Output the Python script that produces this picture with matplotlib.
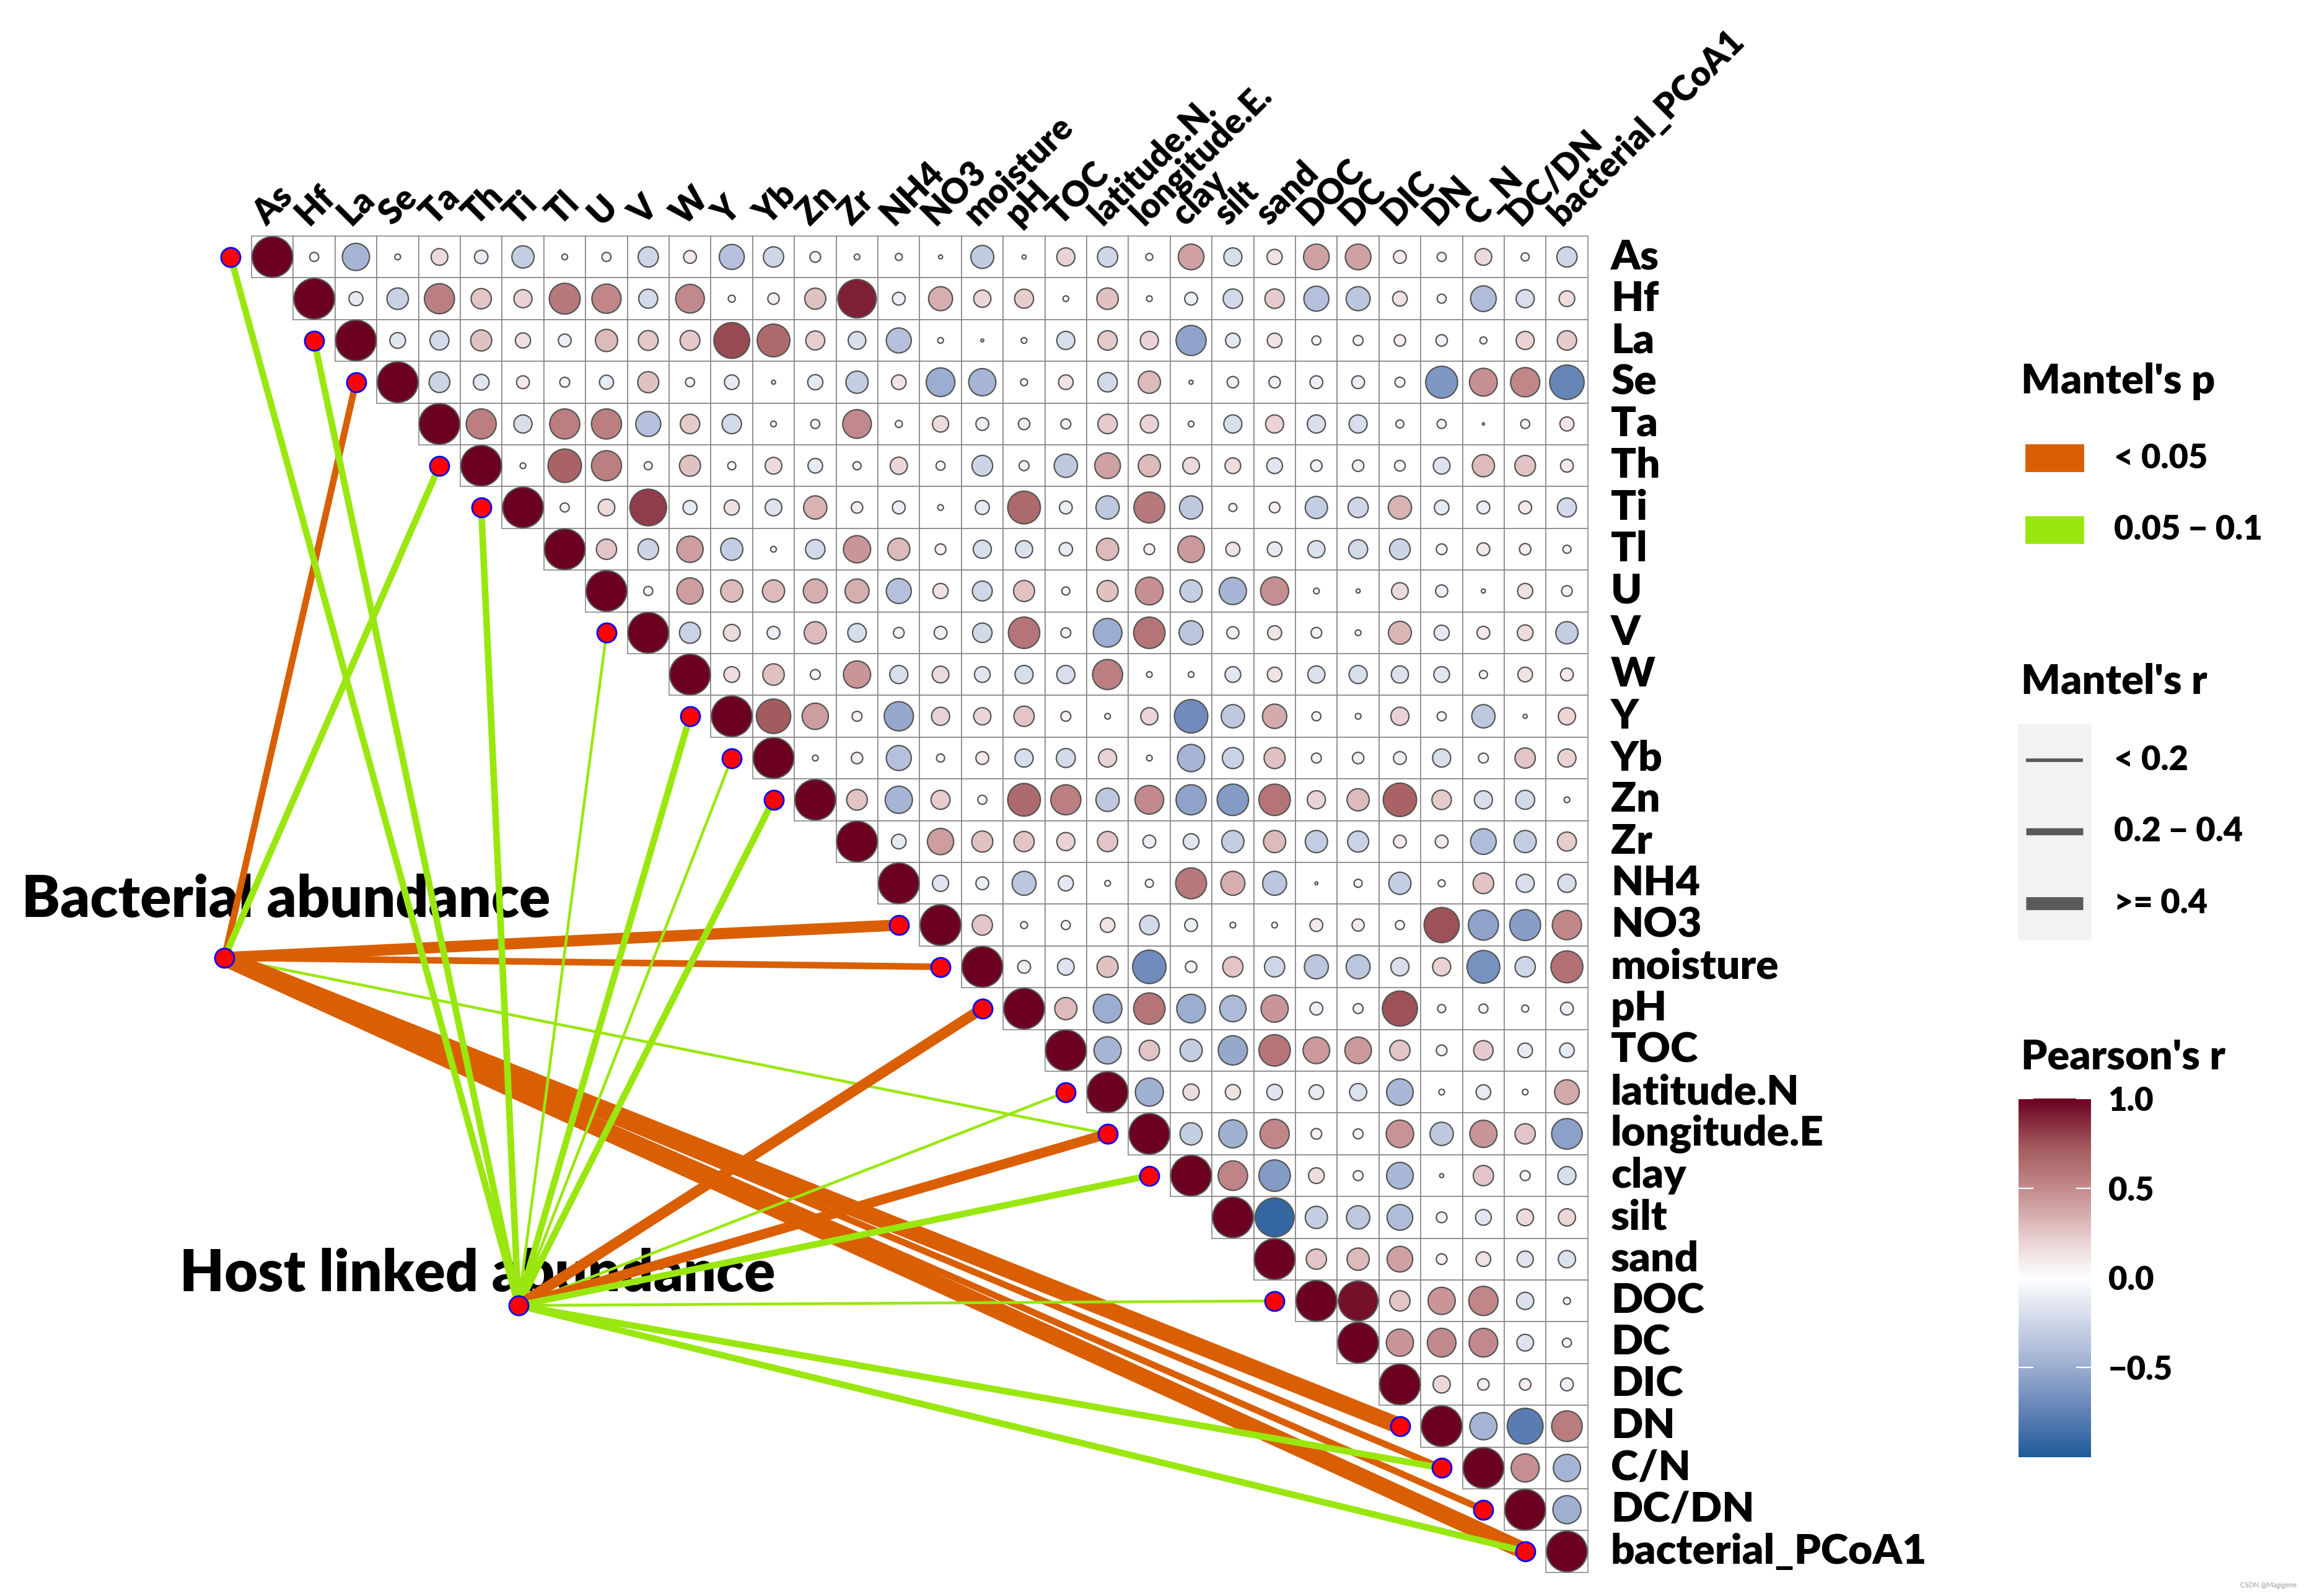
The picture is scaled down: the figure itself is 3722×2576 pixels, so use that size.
import numpy as np
import matplotlib
matplotlib.use("Agg")
import matplotlib.pyplot as plt
from matplotlib.patches import Rectangle, Circle
from matplotlib.lines import Line2D
from matplotlib.colors import LinearSegmentedColormap, Normalize
from matplotlib.cm import ScalarMappable

plt.rcParams['font.family'] = ['Lato', 'DejaVu Sans']
WEIGHT = 'heavy'
plt.rcParams['font.weight'] = WEIGHT

# variables (rows on the right, columns on top)
row_labels = ['As', 'Hf', 'La', 'Se', 'Ta', 'Th', 'Ti', 'Tl', 'U', 'V', 'W', 'Y', 'Yb',
              'Zn', 'Zr', 'NH4', 'NO3', 'moisture', 'pH', 'TOC', 'latitude.N',
              'longitude.E', 'clay', 'silt', 'sand', 'DOC', 'DC', 'DIC', 'DN', 'C/N',
              'DC/DN', 'bacterial_PCoA1']
col_labels = ['As', 'Hf', 'La', 'Se', 'Ta', 'Th', 'Ti', 'Tl', 'U', 'V', 'W', 'Y', 'Yb',
              'Zn', 'Zr', 'NH4', 'NO3', 'moisture', 'pH', 'TOC', 'latitude.N.',
              'longitude.E.', 'clay', 'silt', 'sand', 'DOC', 'DC', 'DIC', 'DN', 'C_N',
              'DC/DN', 'bacterial_PCoA1']

# Pearson's r, upper triangle: each row holds the values right of the diagonal
r_As = [-0.05, -0.45, 0.02, 0.17, -0.11, -0.3, 0.02, 0.05, -0.25, 0.1, -0.38, -0.25, 0.07,
        0.02, 0.03, 0.01, -0.32, 0.01, 0.2, -0.25, 0.03, 0.4, -0.2, 0.14, 0.4, 0.4, 0.1,
        0.05, 0.17, 0.04, -0.25]
r_Hf = [-0.12, -0.28, 0.55, 0.25, 0.2, 0.58, 0.52, -0.22, 0.5, 0.03, 0.08, 0.27, 0.9,
        -0.1, 0.35, 0.18, 0.22, 0.02, 0.28, 0.02, -0.1, -0.23, 0.23, -0.38, -0.35, 0.13,
        0.05, -0.4, -0.2, 0.15]
r_La = [-0.15, -0.22, 0.27, 0.14, -0.1, 0.3, 0.24, 0.24, 0.78, 0.65, 0.22, -0.19, -0.38,
        0.02, 0.005, 0.02, -0.2, 0.23, 0.2, -0.55, -0.13, 0.13, 0.05, 0.06, 0.08, -0.08,
        0.03, 0.2, 0.23]
r_Se = [-0.26, -0.15, 0.1, -0.06, -0.12, 0.27, 0.05, -0.13, 0.01, -0.14, -0.3, 0.13, -0.5,
        -0.45, 0.03, 0.13, -0.23, 0.3, 0.01, 0.08, -0.08, -0.1, -0.1, 0.06, -0.62, 0.47,
        0.52, -0.72]
r_Ta = [0.55, -0.2, 0.55, 0.55, -0.38, 0.23, -0.23, 0.02, 0.05, 0.5, 0.03, 0.16, -0.1,
        0.08, 0.06, 0.23, 0.2, 0.02, -0.2, 0.2, -0.2, -0.2, 0.04, -0.05, 0.003, -0.05, 0.12]
r_Th = [0.02, 0.68, 0.55, 0.04, 0.27, 0.04, 0.17, -0.13, 0.04, 0.18, -0.05, -0.26, -0.06,
        -0.33, 0.4, 0.3, 0.17, 0.15, -0.15, -0.08, -0.08, -0.07, -0.17, 0.3, 0.26, 0.1]
r_Ti = [0.05, 0.17, 0.82, -0.12, 0.14, -0.17, 0.33, 0.08, -0.1, 0.02, -0.12, 0.65, -0.1,
        -0.33, 0.58, -0.33, 0.04, 0.07, -0.3, -0.25, 0.33, -0.13, -0.1, 0.1, -0.22]
r_Tl = [0.25, -0.26, 0.42, -0.3, 0.02, -0.23, 0.45, 0.3, 0.07, -0.2, -0.18, -0.11, 0.3,
        0.07, 0.43, 0.12, -0.13, -0.18, -0.22, -0.26, -0.07, 0.1, 0.08, 0.04]
r_U = [0.05, 0.42, 0.3, 0.3, 0.35, 0.35, -0.38, 0.14, -0.24, 0.27, 0.04, 0.27, 0.47, -0.3,
       -0.45, 0.48, 0.02, 0.01, 0.17, -0.09, 0.01, 0.14, -0.07]
r_V = [-0.27, 0.17, -0.1, 0.3, -0.21, -0.07, -0.1, -0.23, 0.6, 0.06, -0.5, 0.6, -0.35,
       -0.09, 0.12, -0.07, 0.02, 0.32, -0.14, 0.1, 0.15, -0.3]
r_W = [0.15, 0.28, -0.06, 0.45, -0.2, 0.17, -0.15, -0.2, -0.2, 0.55, 0.02, 0.02, -0.15,
       0.13, -0.18, -0.2, -0.18, -0.15, 0.04, 0.13, 0.1]
r_Y = [0.72, 0.42, 0.06, -0.52, 0.2, 0.18, 0.25, 0.06, 0.02, 0.18, -0.68, -0.33, 0.36, 0.05,
       0.02, 0.2, 0.05, -0.33, 0.01, 0.18]
r_Yb = [0.02, 0.08, -0.38, 0.04, 0.1, -0.2, -0.22, 0.2, 0.02, -0.45, -0.27, 0.27, 0.06,
        -0.08, -0.1, -0.2, 0.06, 0.25, 0.2]
r_Zn = [0.26, -0.45, 0.22, 0.05, 0.65, 0.55, -0.33, 0.5, -0.55, -0.6, 0.6, 0.2, 0.3, 0.68,
        0.23, -0.2, -0.22, 0.02]
r_Zr = [-0.13, 0.42, 0.27, 0.25, 0.2, 0.25, -0.1, -0.15, -0.3, 0.3, -0.3, -0.27, 0.1, 0.1,
        -0.4, -0.3, 0.22]
r_NH4 = [-0.16, -0.1, -0.35, -0.14, 0.02, -0.04, 0.58, 0.35, -0.35, 0.005, -0.04, -0.3,
         0.03, 0.26, -0.2, -0.2]
r_NO3 = [0.25, 0.03, 0.05, 0.13, -0.23, -0.1, 0.02, 0.02, 0.1, 0.09, 0.05, 0.75, -0.55,
         -0.58, 0.52]
r_moisture = [-0.1, -0.17, 0.27, -0.68, -0.08, 0.25, -0.25, -0.35, -0.35, -0.2, 0.2, -0.65,
              -0.25, 0.62]
r_pH = [0.3, -0.5, 0.6, -0.5, -0.42, 0.45, -0.1, 0.06, 0.75, 0.04, 0.05, 0.03, -0.1]
r_TOC = [-0.45, 0.25, -0.3, -0.52, 0.6, 0.43, 0.43, 0.25, 0.07, 0.23, -0.13, -0.13]
r_latN = [-0.48, 0.16, 0.14, -0.15, -0.13, -0.18, -0.43, 0.02, -0.13, 0.02, 0.37]
r_lonE = [-0.3, -0.48, 0.52, 0.07, 0.06, 0.46, -0.33, 0.45, 0.25, -0.57]
r_clay = [0.53, -0.6, 0.15, 0.06, -0.43, 0.01, 0.25, 0.06, -0.2]
r_silt = [-0.92, -0.3, -0.33, -0.4, -0.07, -0.15, 0.17, 0.18]
r_sand = [0.25, 0.3, 0.4, 0.07, 0.13, -0.16, -0.18]
r_DOC = [0.95, 0.25, 0.45, 0.52, -0.18, 0.03]
r_DC = [0.45, 0.5, 0.5, -0.17, 0.05]
r_DIC = [0.18, 0.08, 0.08, -0.1]
r_DN = [-0.45, -0.78, 0.57]
r_CN = [0.48, -0.45]
r_DCDN = [-0.48]
r_PCoA1 = []

upper_rows = [r_As, r_Hf, r_La, r_Se, r_Ta, r_Th, r_Ti, r_Tl, r_U, r_V, r_W, r_Y, r_Yb,
              r_Zn, r_Zr, r_NH4, r_NO3, r_moisture, r_pH, r_TOC, r_latN, r_lonE, r_clay,
              r_silt, r_sand, r_DOC, r_DC, r_DIC, r_DN, r_CN, r_DCDN, r_PCoA1]

# Mantel test links
mantel_from = ['Bacterial abundance'] * 9 + ['Host linked abundance'] * 14
mantel_to = ['Se', 'Th', 'NO3', 'moisture', 'longitude.E', 'DN', 'C/N', 'DC/DN',
             'bacterial_PCoA1',
             'As', 'La', 'Ti', 'V', 'Y', 'Yb', 'Zn', 'pH', 'latitude.N', 'longitude.E',
             'clay', 'DOC', 'C/N', 'bacterial_PCoA1']
mantel_r = [0.28, 0.28, 0.48, 0.28, 0.12, 0.7, 0.28, 0.28, 0.72,
            0.28, 0.28, 0.28, 0.12, 0.28, 0.12, 0.28, 0.45, 0.12, 0.42, 0.28, 0.12, 0.28, 0.28]
mantel_p = [0.01, 0.07, 0.01, 0.01, 0.08, 0.001, 0.01, 0.01, 0.001,
            0.07, 0.07, 0.07, 0.09, 0.07, 0.09, 0.07, 0.01, 0.09, 0.01, 0.07, 0.09, 0.07, 0.07]

# node layout (in cell units)
node_names = ['Bacterial abundance', 'Host linked abundance']
node_x = [-0.65, 6.39]
node_y = [17.28, 25.61]

W, H, DPI = 3722, 2576, 200
CELL = 67.4
X0, Y0 = 406, 381
PX2PT = 72 / DPI

fig = plt.figure(figsize=(W / DPI, H / DPI), dpi=DPI)
ax = fig.add_axes([0, 0, 1, 1])
ax.set_xlim(-X0 / CELL, (W - X0) / CELL)
ax.set_ylim((H - Y0) / CELL, -Y0 / CELL)
ax.axis('off')

anchors = [(-1.0, '#1F5A99'), (-0.7, '#6E8ABB'), (-0.4, '#B1BEDA'), (-0.2, '#D8DEEC'),
           (0.0, '#FFFFFF'), (0.2, '#EAD3D4'), (0.46, '#C89395'), (0.73, '#A35A5E'),
           (1.0, '#6B0020')]
cmap = LinearSegmentedColormap.from_list('rb', [((v + 1) / 2, c) for v, c in anchors])
norm = Normalize(-1, 1)

n = len(row_labels)
for i in range(n):
    vals = [1.0] + list(upper_rows[i])
    for k, r in enumerate(vals):
        j = i + k
        ax.add_patch(Rectangle((j, i), 1, 1, facecolor='white', edgecolor='#858585',
                               lw=1.6 * PX2PT, zorder=1))
        ax.add_patch(Circle((j + 0.5, i + 0.5), 0.485 * np.sqrt(abs(r)),
                            facecolor=cmap(norm(r)), edgecolor='#555555',
                            lw=2.2 * PX2PT, zorder=2))

for j, lab in enumerate(col_labels):
    ax.text(j + 0.37, -0.22, lab, rotation=45, rotation_mode='anchor', ha='left',
            va='baseline', fontsize=20, fontweight=WEIGHT, zorder=6)
for i, lab in enumerate(row_labels):
    ax.text(32.55, i + 0.5, lab, ha='left', va='center', fontsize=24.3,
            fontweight=WEIGHT, zorder=6)

orange, green = '#D95F02', '#9AE70F'
ends = {}
for src, dst, r, p in zip(mantel_from, mantel_to, mantel_r, mantel_p):
    k = node_names.index(src)
    i = row_labels.index(dst)
    ex, ey = i - 0.5, i + 0.5
    ends[dst] = (ex, ey)
    ax.plot([node_x[k], ex], [node_y[k], ey], color=orange if p < 0.05 else green,
            lw=38 * r * PX2PT, solid_capstyle='butt', zorder=3)

pts = list(ends.values())
ax.scatter([q[0] for q in pts] + node_x, [q[1] for q in pts] + node_y, s=125,
           facecolor='red', edgecolor='blue', linewidths=1.0, zorder=5)

ax.text(-5.5, 16.3, 'Bacterial abundance', ha='left', va='baseline', fontsize=33.5,
        fontweight=WEIGHT, zorder=0.5)
ax.text(-1.72, 25.27, 'Host linked abundance', ha='left', va='baseline', fontsize=33.5,
        fontweight=WEIGHT, zorder=0.5)

# legends (figure pixel layout)
def fx(x):
    return x / W

def fy(y):
    return 1 - y / H

fig.text(fx(3262), fy(615), "Mantel's p", ha='left', va='center', fontsize=24, fontweight=WEIGHT)
fig.add_artist(Rectangle((fx(3270), fy(760)), 92 / W, 42 / H, color=orange,
                         transform=fig.transFigure))
fig.add_artist(Rectangle((fx(3270), fy(876)), 92 / W, 42 / H, color=green,
                         transform=fig.transFigure))
fig.text(fx(3412), fy(740), '< 0.05', ha='left', va='center', fontsize=19.5, fontweight=WEIGHT)
fig.text(fx(3412), fy(855), '0.05 \u2212 0.1', ha='left', va='center', fontsize=19.5,
         fontweight=WEIGHT)

fig.text(fx(3262), fy(1100), "Mantel's r", ha='left', va='center', fontsize=24, fontweight=WEIGHT)
fig.add_artist(Rectangle((fx(3258), fy(1516)), 116 / W, 346 / H, color='#F2F2F2',
                         transform=fig.transFigure))
for y, rr, lab in zip([1227, 1342, 1458], [0.15, 0.3, 0.55], ['< 0.2', '0.2 \u2212 0.4', '>= 0.4']):
    fig.add_artist(Line2D([fx(3270), fx(3362)], [fy(y), fy(y)], color='#595959',
                          lw=38 * rr * PX2PT, solid_capstyle='butt', transform=fig.transFigure))
    fig.text(fx(3412), fy(y), lab, ha='left', va='center', fontsize=19.5, fontweight=WEIGHT)

fig.text(fx(3262), fy(1706), "Pearson's r", ha='left', va='center', fontsize=24, fontweight=WEIGHT)
cax = fig.add_axes([fx(3258), fy(2352), 117 / W, (2352 - 1773) / H])
cb = fig.colorbar(ScalarMappable(norm=norm, cmap=cmap), cax=cax)
cb.outline.set_visible(False)
cb.set_ticks([1.0, 0.5, 0.0, -0.5])
cb.set_ticklabels(['1.0', '0.5', '0.0', '\u22120.5'])
cb.minorticks_off()
cax.tick_params(direction='in', length=8.5, width=0.8, color='white', left=True, right=True,
                labelsize=19, pad=10)
for t in cax.get_yticklabels():
    t.set_fontweight(WEIGHT)

fig.text(fx(3707), fy(2559), 'CSDN @Magigene', ha='right', va='center', fontsize=4,
         color='#999999', fontweight='normal')

fig.savefig('out.png', dpi=DPI)
